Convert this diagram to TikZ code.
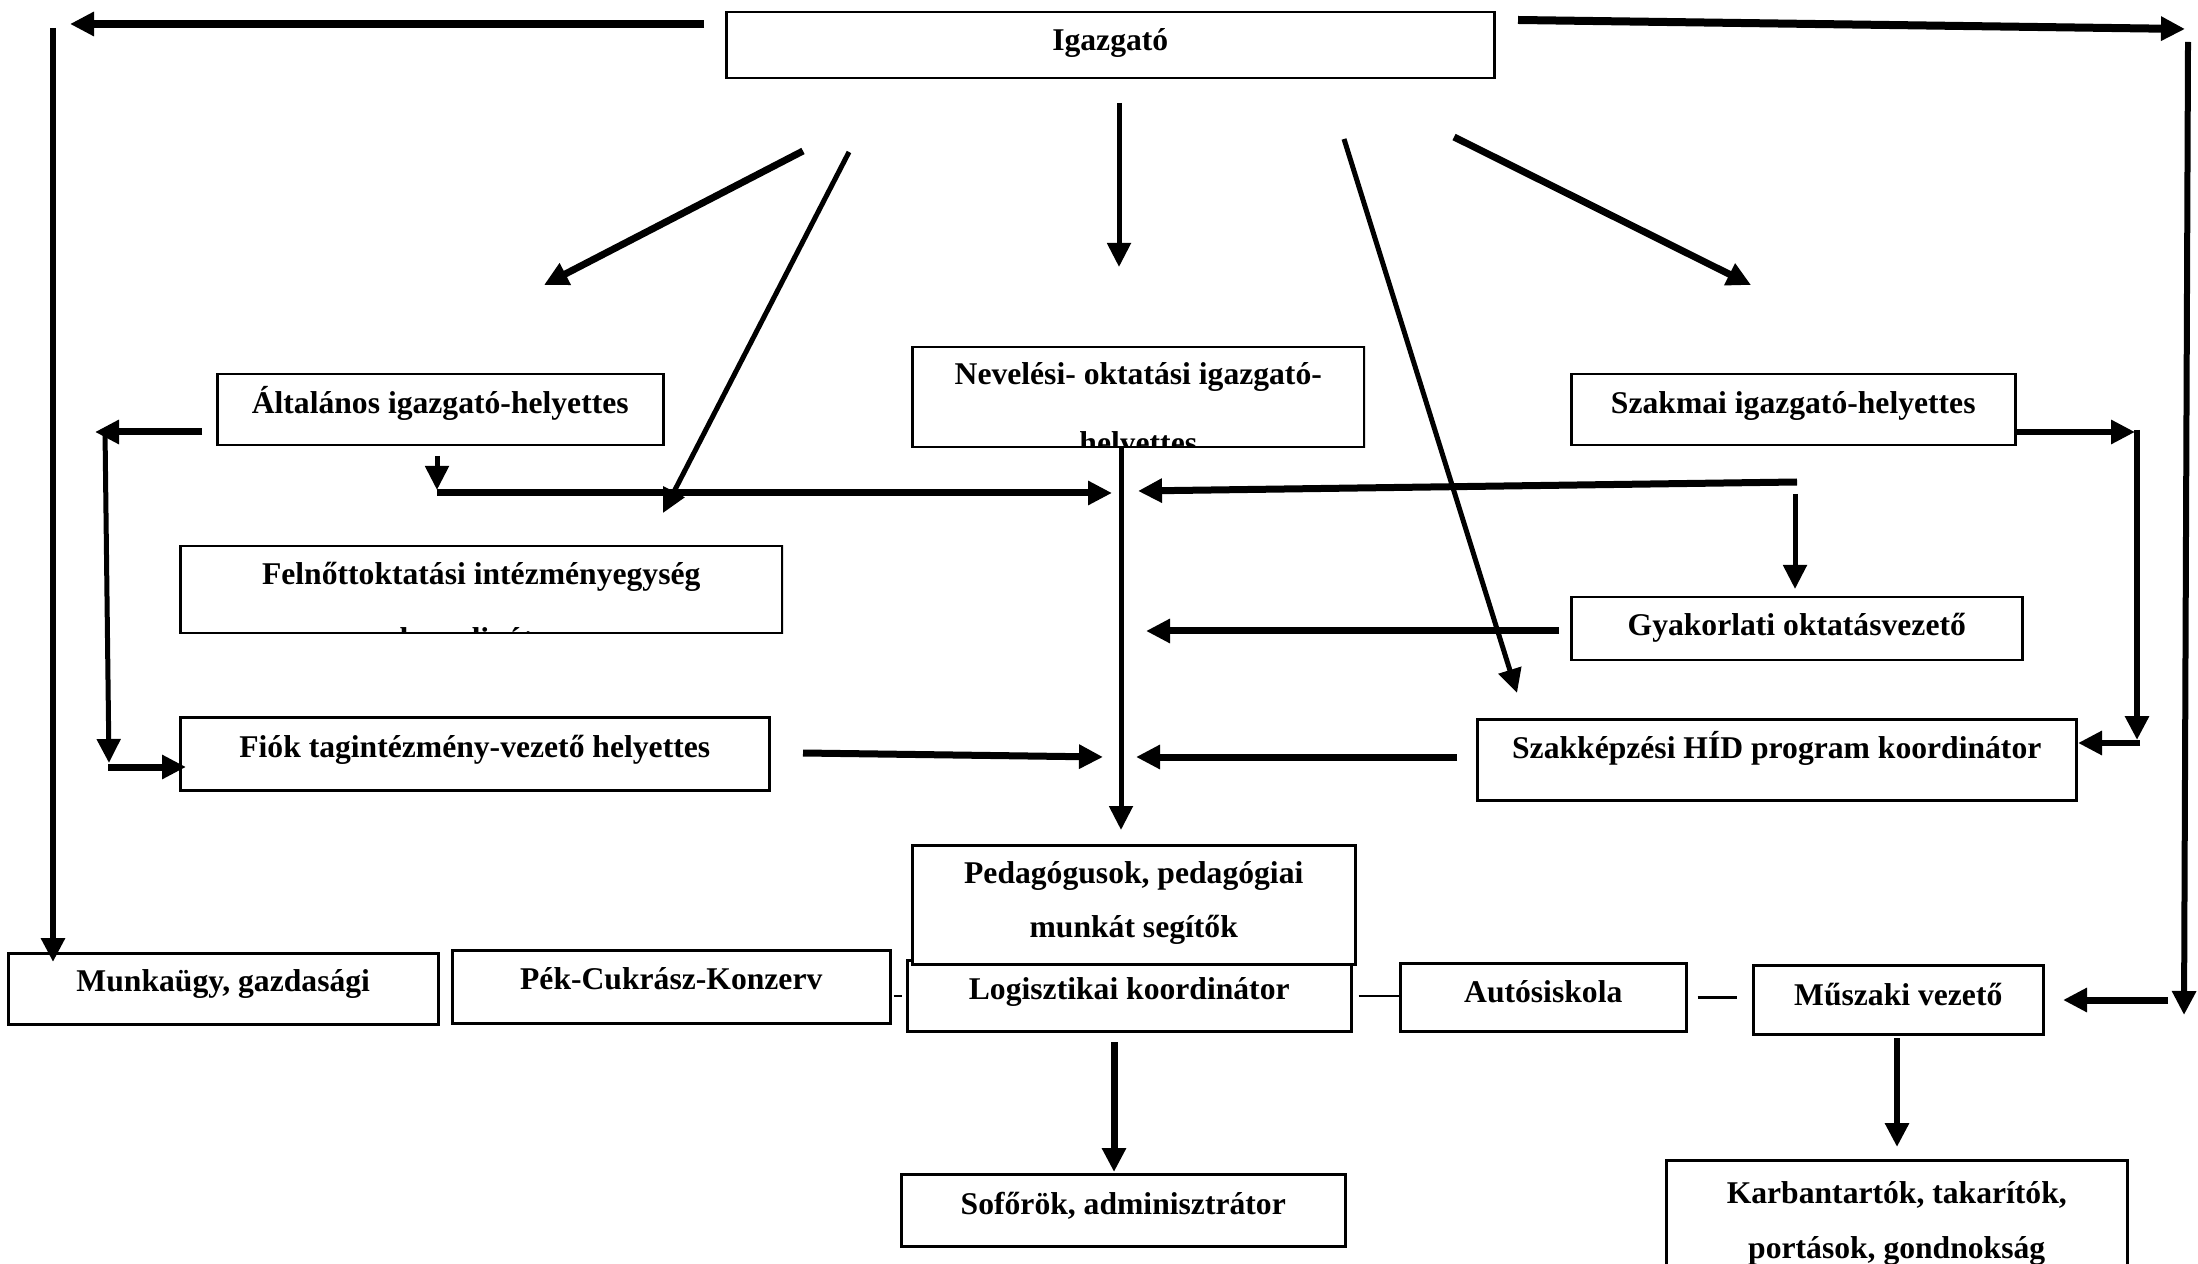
\documentclass[tikz,border=0pt]{standalone}
\usepackage{fontspec}
\setmainfont{Liberation Serif}
\usetikzlibrary{arrows.meta}
\newcommand{\unitfont}{\fontsize{9pt}{5.4mm}\selectfont\bfseries}
\tikzset{
  unit/.style={draw, line width=0.25mm, fill=white, inner sep=0pt, anchor=north west, align=center, font=\unitfont},
  flow/.style={line width=0.7mm, -{Triangle[length=2.4mm, width=2.3mm]}},
  flow thin/.style={flow, line width=0.5mm},
  tie/.style={line width=0.25mm}
}

\begin{document}
\begin{tikzpicture}[x=0.1mm, y=-0.1mm]
\clip (0,0) rectangle (2198,1264);

\node[unit, minimum width=76.8mm, text height=3.8mm, text depth=2.8mm] (igazgato) at (725,11) {Igazgató};
\node[unit, minimum width=44.6mm, text height=3.9mm, text depth=3.2mm] (altalanos) at (216,373) {Általános igazgató-helyettes};
\begin{scope}
  \clip (909,344) rectangle (1365,448);
  \node[unit, minimum width=45.2mm, text height=10mm, text depth=0mm] (neveles) at (911,346) {Nevelési- oktatási igazgató-\\[0.9mm]\raisebox{-0.6mm}{helyettes}};
\end{scope}
\node[unit, minimum width=44.4mm, text height=3.9mm, text depth=3.2mm] (szakmai) at (1570,373) {Szakmai igazgató-helyettes};
\begin{scope}
  \clip (177,543) rectangle (783,634);
  \node[unit, minimum width=60.2mm, text height=8.7mm, text depth=0mm] (felnott) at (179,545) {Felnőttoktatási intézményegység\\[-0.5mm]\raisebox{-1.6mm}{koordinátor}};
\end{scope}
\node[unit, minimum width=45.1mm, text height=3.8mm, text depth=2.5mm] (gyakorlati) at (1570,596) {Gyakorlati oktatásvezető};
\node[unit, minimum width=58.9mm, text height=4mm, text depth=3.3mm] (fiok) at (179,716) {Fiók tagintézmény-vezető helyettes};
\node[unit, minimum width=59.9mm, text height=3.9mm, text depth=4.2mm] (hid) at (1476,718) {Szakképzési HÍD program koordinátor};
\node[unit, minimum width=43mm, text height=3.8mm, text depth=3.3mm] (munkaugy) at (7,952) {Munkaügy, gazdasági};
\node[unit, minimum width=43.8mm, text height=3.9mm, text depth=3.4mm] (pek) at (451,949) {Pék-Cukrász-Konzerv};
\node[unit, minimum width=44.4mm, text height=3.9mm, text depth=3.2mm] (logisztika) at (906,959) {Logisztikai koordinátor};
\node[unit, minimum width=44.3mm, text height=9.2mm, text depth=2.7mm] (pedagogus) at (911,844) {Pedagógusok, pedagógiai\\munkát segítők};
\node[unit, minimum width=28.6mm, text height=3.9mm, text depth=2.9mm] (autosiskola) at (1399,962) {Autósiskola};
\node[unit, minimum width=29mm, text height=4mm, text depth=2.9mm] (muszaki) at (1752,964) {Műszaki vezető};
\node[unit, minimum width=44.4mm, text height=4mm, text depth=3.2mm] (soforok) at (900,1173) {Sofőrök, adminisztrátor};
\node[unit, minimum width=46.1mm, text height=9.8mm, text depth=2.3mm] (karbantarto) at (1665,1159) {Karbantartók, takarítók,\\[0.1mm]portások, gondnokság};

% free ends of the connectors
\coordinate (igL) at (704,24);      \coordinate (cornerTL) at (70,24);
\coordinate (railLtop) at (53,28);  \coordinate (railLend) at (53,962);
\coordinate (igR) at (1518,20);     \coordinate (cornerTR) at (2185,29);
\coordinate (railRtop) at (2188,42); \coordinate (railRend) at (2184,1015);
\coordinate (railRout) at (2168,1000); \coordinate (muszIn) at (2063,1000);
\coordinate (d1s) at (803,151);  \coordinate (d1e) at (544,285);
\coordinate (d2s) at (849,152);  \coordinate (d2e) at (663,513);
\coordinate (d3s) at (1119,103); \coordinate (d3e) at (1119,267);
\coordinate (d4s) at (1344,139); \coordinate (d4e) at (1517,693);
\coordinate (d5s) at (1454,137); \coordinate (d5e) at (1751,285);
\coordinate (altOut) at (202,432);  \coordinate (loopTip) at (95,432);
\coordinate (loopTop) at (105,430); \coordinate (loopBot) at (109,763);
\coordinate (loopOut) at (108,767); \coordinate (fiokIn) at (186,767);
\coordinate (altDown) at (437,456); \coordinate (altTip) at (437,490);
\coordinate (busL) at (437,493);    \coordinate (busLtip) at (1112,493);
\coordinate (stemTop) at (1121,446); \coordinate (stemTip) at (1121,830);
\coordinate (busR) at (1797,482);   \coordinate (busRtip) at (1138,491);
\coordinate (gyakTop) at (1795,494); \coordinate (gyakTip) at (1795,589);
\coordinate (gyakOut) at (1559,631); \coordinate (gyakTo) at (1146,631);
\coordinate (szakOut) at (2015,432); \coordinate (szakTip) at (2135,432);
\coordinate (szakTop) at (2137,430); \coordinate (szakBot) at (2137,740);
\coordinate (hidOut) at (2140,743);  \coordinate (hidIn) at (2078,743);
\coordinate (hidL) at (1457,757);    \coordinate (hidTo) at (1136,757);
\coordinate (fiokOut) at (803,753);  \coordinate (fiokTo) at (1103,757);
\coordinate (logiOut) at (1114,1042); \coordinate (logiTip) at (1114,1172);
\coordinate (muszOut) at (1897,1038); \coordinate (muszTip) at (1897,1147);

\draw[flow, line width=0.8mm] (igL) -- (cornerTL);
\draw[flow thin, line width=0.6mm] (railLtop) -- (railLend);
\draw[flow, line width=0.8mm] (igR) -- (cornerTR);
\draw[flow thin, line width=0.6mm] (railRtop) -- (railRend);
\draw[flow] (railRout) -- (muszIn);

\draw[flow] (d1s) -- (d1e);
\draw[flow thin] (d2s) -- (d2e);
\draw[flow thin] (d3s) -- (d3e);
\draw[flow thin] (d4s) -- (d4e);
\draw[flow] (d5s) -- (d5e);

\draw[flow] (altOut) -- (loopTip);
\draw[flow thin] (loopTop) -- (loopBot);
\draw[flow] (loopOut) -- (fiokIn);
\draw[flow thin] (altDown) -- (altTip);
\draw[flow] (busL) -- (busLtip);
\draw[flow thin] (stemTop) -- (stemTip);
\draw[flow] (busR) -- (busRtip);
\draw[flow thin] (gyakTop) -- (gyakTip);
\draw[flow] (gyakOut) -- (gyakTo);
\draw[flow thin, line width=0.6mm] (szakOut) -- (szakTip);
\draw[flow thin, line width=0.6mm] (szakTop) -- (szakBot);
\draw[flow thin, line width=0.6mm] (hidOut) -- (hidIn);
\draw[flow] (hidL) -- (hidTo);
\draw[flow] (fiokOut) -- (fiokTo);
\draw[flow] (logiOut) -- (logiTip);
\draw[flow thin, line width=0.6mm] (muszOut) -- (muszTip);

\draw[tie, shorten <=0.2mm, shorten >=0.4mm] (pek.east |- logisztika.west) -- (logisztika.west);
\draw[tie, shorten <=0.6mm] (logisztika.east) -- (logisztika.east -| autosiskola.west);
\draw[tie, shorten <=1mm, shorten >=1.5mm] (autosiskola.east) -- (autosiskola.east -| muszaki.west);
\end{tikzpicture}
\end{document}
